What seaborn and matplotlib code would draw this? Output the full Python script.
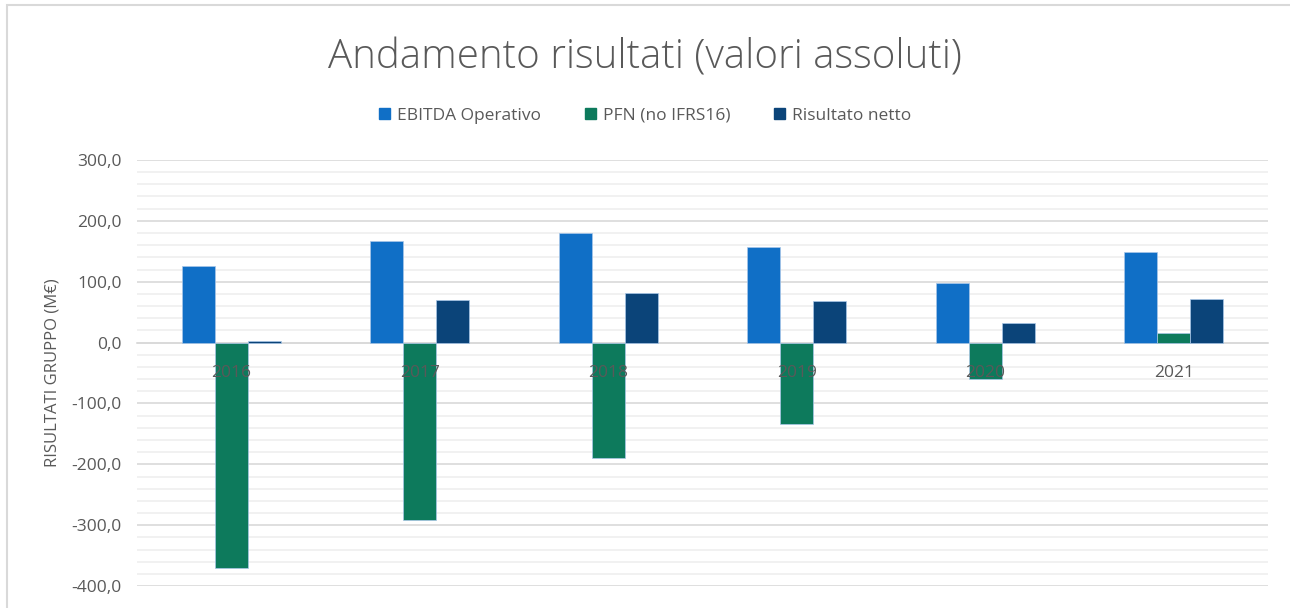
import numpy as np
import pandas as pd
import matplotlib.pyplot as plt
import seaborn as sns
from matplotlib.patches import Rectangle
from matplotlib.ticker import FuncFormatter, MultipleLocator, FixedLocator

anni = ["2016", "2017", "2018", "2019", "2020", "2021"]
serie = ["EBITDA Operativo", "PFN (no IFRS16)", "Risultato netto"]
ebitda = [126, 167, 180, 157, 98, 149]
pfn = [-370, -291, -190, -134, -60, 15]
netto = [3, 70, 82, 68, 32, 71]
colori = ["#106fc6", "#0d7a5c", "#0b4479"]

df = pd.DataFrame({
    "anno": anni * 3,
    "serie": np.repeat(serie, len(anni)),
    "valore": ebitda + pfn + netto,
})

sns.set_style("white")
plt.rcParams["font.family"] = ["Open Sans", "DejaVu Sans"]
grigio = "#595959"

fig = plt.figure(figsize=(12.9, 6.08), dpi=100)
ax = fig.add_axes([0.106, 0.036, 0.877, 0.701])

sns.barplot(data=df, x="anno", y="valore", hue="serie", palette=colori,
            width=0.525, saturation=1, edgecolor="#a9c7e8", linewidth=0.5,
            ax=ax, legend=False, zorder=3)

ax.set_ylim(-400, 300)
ax.set_xlim(-0.5, 5.5)
ax.yaxis.set_major_locator(MultipleLocator(100))
ax.yaxis.set_minor_locator(MultipleLocator(20))
ax.yaxis.set_major_formatter(FuncFormatter(lambda v, p: f"{v:.1f}".replace(".", ",")))
ax.grid(which="major", axis="y", color="#d9d9d9", linewidth=1.2, zorder=0)
ax.grid(which="minor", axis="y", color="#efefef", linewidth=1.2, zorder=0)
ax.tick_params(axis="y", which="both", length=0, labelsize=12.5, labelcolor=grigio, pad=11)

# asse x sulla linea dello zero
for s in ["top", "right", "left"]:
    ax.spines[s].set_visible(False)
ax.spines["bottom"].set_position(("data", 0))
ax.spines["bottom"].set_color("#d9d9d9")
ax.spines["bottom"].set_linewidth(1.2)
ax.spines["bottom"].set_zorder(2)
ax.xaxis.set_minor_locator(FixedLocator(np.arange(-0.5, 6, 1)))
ax.tick_params(axis="x", which="major", length=0, labelsize=12.5, labelcolor=grigio, pad=16)
ax.tick_params(axis="x", which="minor", length=6, color="#d9d9d9", width=1.2, direction="out")
ax.xaxis.set_zorder(5)
ax.set_xlabel("")
ax.set_ylabel("RISULTATI GRUPPO (M€)", fontsize=12, color=grigio, labelpad=8)

fig.text(0.5, 0.905, "Andamento risultati (valori assoluti)", ha="center", va="center",
         fontsize=29, color=grigio, fontweight="light")

handles = [Rectangle((0, 0), 1, 1, color=c) for c in colori]
fig.legend(handles, serie, loc="center", bbox_to_anchor=(0.5, 0.81), ncol=3, frameon=False,
           fontsize=12.5, labelcolor=grigio, handlelength=0.65, handleheight=0.65,
           handletextpad=0.4, columnspacing=2.5)

# cornice del grafico
fig.add_artist(Rectangle((0.0055, -0.1), 1.2, 1.092, transform=fig.transFigure, fill=False,
                         edgecolor="#d9d9d9", linewidth=1.5))

fig.savefig("out.png", dpi=100, facecolor="white")
